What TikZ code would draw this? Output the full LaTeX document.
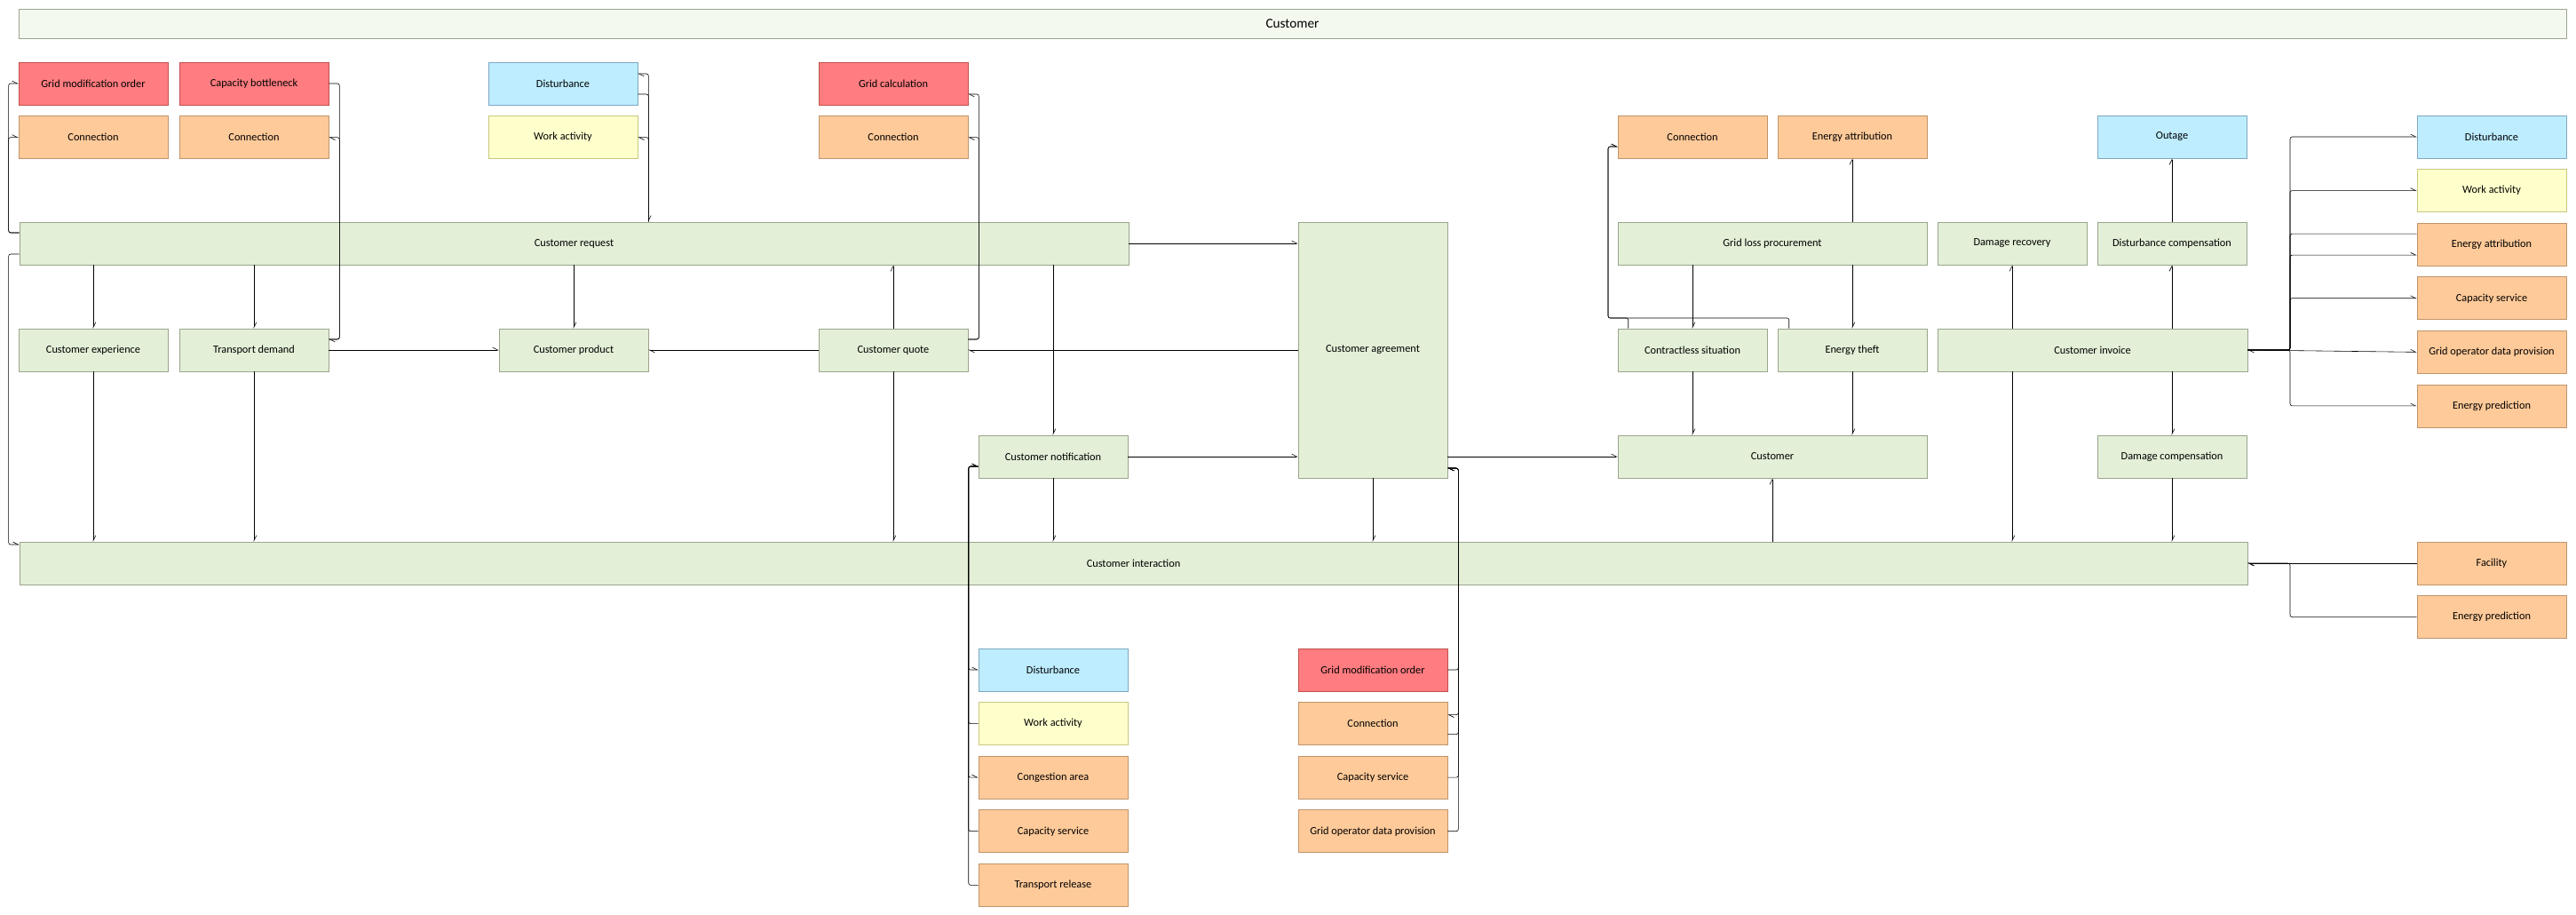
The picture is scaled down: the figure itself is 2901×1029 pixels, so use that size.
\documentclass[tikz,border=0pt]{standalone}
\usepackage{fontspec}
\setmainfont{Carlito}
\usetikzlibrary{positioning,arrows.meta,calc}

\definecolor{actfill}{HTML}{E3EFD7}
\definecolor{actdraw}{HTML}{9BA58C}
\definecolor{redfill}{HTML}{FF7C80}
\definecolor{reddraw}{HTML}{C0504D}
\definecolor{orgfill}{HTML}{FFCA99}
\definecolor{orgdraw}{HTML}{C0946A}
\definecolor{blufill}{HTML}{BDEDFF}
\definecolor{bludraw}{HTML}{7FA8C0}
\definecolor{yelfill}{HTML}{FFFFCC}
\definecolor{yeldraw}{HTML}{C8C87F}

\begin{document}
\begin{tikzpicture}[%
  x=0.03cm, y=-0.03cm,
  >={Straight Barb[left,length=5pt,width=5pt]},
  node distance=0.36cm,
  font=\fontsize{10.5}{12}\selectfont,
  box/.style={
    draw,
    line width=0.5pt,
    minimum width=5.04cm,
    minimum height=1.44cm,
    inner sep=0pt,
    align=center,},
  act/.style={box, fill=actfill, draw=actdraw},
  red/.style={box, fill=redfill, draw=reddraw},
  org/.style={box, fill=orgfill, draw=orgdraw},
  blu/.style={box, fill=blufill, draw=bludraw},
  yel/.style={box, fill=yelfill, draw=yeldraw},
  pil/.style={
    ->,
    line width=0.5pt,
    rounded corners=2pt,}
  ]
  \useasboundingbox (0,0) rectangle (2901,1029);
  %% Nodes
  \node[act, fill=actfill!40, minimum width=86.07cm, minimum height=0.99cm,
    font=\fontsize{13}{15}\selectfont] (title) at (1455.5,27) {Customer};
  % top left
  \node[red] (gmoA) at (105,94) {Grid modification order};
  \node[red] (cb) at (286,94) {Capacity bottleneck};
  \node[org, below=of gmoA] (connA) {Connection};
  \node[org, below=of cb] (connB) {Connection};
  \node[blu] (distA) at (634,94) {Disturbance};
  \node[yel, below=of distA] (waA) {Work activity};
  \node[red] (gc) at (1006,94) {Grid calculation};
  \node[org, below=of gc] (connC) {Connection};
  \node[org] (connD) at (1906,154) {Connection};
  \node[org] (eaA) at (2086,154) {Energy attribution};
  \node[blu] (outage) at (2446,154) {Outage};
  % main rows
  \node[act, minimum width=37.47cm] (creq) at (646.5,274) {Customer request};
  \node[act, minimum height=8.64cm] (agr) at (1546,394) {Customer agreement};
  \node[act, minimum width=10.44cm] (glp) at (1996,274) {Grid loss procurement};
  \node[act] (dr) at (2266,274) {Damage recovery};
  \node[act] (dc) at (2446,274) {Disturbance compensation};
  \node[act] (cexp) at (105,394) {Customer experience};
  \node[act] (td) at (286,394) {Transport demand};
  \node[act] (cprod) at (646,394) {Customer product};
  \node[act] (cquote) at (1006,394) {Customer quote};
  \node[act] (cls) at (1906,394) {Contractless situation};
  \node[act] (et) at (2086,394) {Energy theft};
  \node[act, minimum width=10.47cm] (inv) at (2356.5,394) {Customer invoice};
  \node[act] (notif) at (1186,514) {Customer notification};
  \node[act, minimum width=10.44cm] (cust) at (1996,514) {Customer};
  \node[act] (dcomp) at (2446,514) {Damage compensation};
  \node[act, minimum width=75.27cm] (ci) at (1276.5,634) {Customer interaction};
  % right column
  \node[blu] (distR) at (2806,154) {Disturbance};
  \node[yel, below=of distR] (waR) {Work activity};
  \node[org, below=of waR] (eaR) {Energy attribution};
  \node[org, below=of eaR] (csR) {Capacity service};
  \node[org, below=of csR] (godpR) {Grid operator data provision};
  \node[org, below=of godpR] (epR) {Energy prediction};
  \node[org] (fac) at (2806,634) {Facility};
  \node[org, below=of fac] (epR2) {Energy prediction};
  % bottom
  \node[blu] (distL) at (1186,754) {Disturbance};
  \node[yel, below=of distL] (waL) {Work activity};
  \node[org, below=of waL] (congL) {Congestion area};
  \node[org, below=of congL] (csL) {Capacity service};
  \node[org, below=of csL] (trL) {Transport release};
  \node[red] (gmoL) at (1546,754) {Grid modification order};
  \node[org, below=of gmoL] (connL) {Connection};
  \node[org, below=of connL] (csL2) {Capacity service};
  \node[org, below=of csL2] (godpL) {Grid operator data provision};
  \coordinate (busR) at (2579,394);
  \coordinate (busC) at (2579,634);
  \coordinate (busE) at (1811,358);
  %% Edges
  \draw[pil] ([yshift=.36cm]creq.west) -- ++(-.36cm,0) |- (gmoA.west);
  \draw[pil] ([yshift=.36cm]creq.west) -- ++(-.36cm,0) |- (connA.west);
  \draw[pil] ([yshift=-.36cm]creq.west) -- ++(-.36cm,0) |- ([yshift=.63cm]ci.west);
  \draw[pil] (cb.east) -- ++(.36cm,0) |- ([yshift=.36cm]td.east);
  \draw[pil] ([yshift=.36cm]td.east) -- ++(.36cm,0) |- (connB.east);
  \draw[pil] ([yshift=-.36cm]distA.east) -- ++(.36cm,0) -- ($(creq.north -| distA.east)+(.36cm,0)$);
  \draw[pil] ($(creq.north -| distA.east)+(.36cm,0)$) |- ([yshift=.33cm]distA.east);
  \draw[pil] ($(creq.north -| distA.east)+(.36cm,0)$) |- (waA.east);
  \draw[pil] ([yshift=.36cm]cquote.east) -- ++(.36cm,0) |- ([yshift=-.36cm]gc.east);
  \draw[pil] ([yshift=.36cm]cquote.east) -- ++(.36cm,0) |- (connC.east);
  \draw[pil] (creq.south -| cexp.north) -- (cexp.north);
  \draw[pil] (creq.south -| td.north) -- (td.north);
  \draw[pil] (creq.south -| cprod.north) -- (cprod.north);
  \draw[pil] (cquote.north) -- (creq.south -| cquote.north);
  \draw[pil] (creq.south -| notif.north) -- (notif.north);
  \draw[pil] (td.east) -- (cprod.west);
  \draw[pil] (cquote.west) -- (cprod.east);
  \draw[pil] (agr.west) -- (cquote.east);
  \draw[pil] (cexp.south) -- (ci.north -| cexp.south);
  \draw[pil] (td.south) -- (ci.north -| td.south);
  \draw[pil] (cquote.south) -- (ci.north -| cquote.south);
  \draw[pil] (notif.south) -- (ci.north -| notif.south);
  \draw[pil] (agr.south) -- (ci.north -| agr.south);
  \draw[pil] (creq.east) -- (agr.west |- creq.east);
  \draw[pil] (notif.east) -- (agr.west |- notif.east);
  \draw[pil] (agr.east |- cust.west) -- (cust.west);
  % notification sources
  \draw[pil] (waL.west) -- ++(-.33cm,0) |- ([yshift=-.33cm]notif.west);
  \draw[pil] (csL.west) -- ++(-.33cm,0) |- ([yshift=-.33cm]notif.west);
  \draw[pil] (trL.west) -- ++(-.33cm,0) |- ([yshift=-.33cm]notif.west);
  \draw[pil] ([yshift=-.33cm]notif.west) -- ++(-.33cm,0) |- (distL.west);
  \draw[pil] ([yshift=-.33cm]notif.west) -- ++(-.33cm,0) |- (congL.west);
  % agreement sources
  \draw[pil] (gmoL.east) -- ++(.36cm,0) |- ([yshift=-3.99cm]agr.east);
  \draw[pil] ([yshift=-.36cm]connL.east) -- ++(.36cm,0) |- ([yshift=-3.99cm]agr.east);
  \draw[pil] (csL2.east) -- ++(.36cm,0) |- ([yshift=-3.99cm]agr.east);
  \draw[pil] (godpL.east) -- ++(.36cm,0) |- ([yshift=-3.99cm]agr.east);
  \draw[pil] ([yshift=-3.99cm]agr.east) -- ++(.36cm,0) |- ([yshift=.3cm]connL.east);
  % grid loss
  \draw[pil] (glp.south -| cls.north) -- (cls.north);
  \draw[pil] (glp.south -| et.north) -- (et.north);
  \draw[pil] (glp.north -| eaA.south) -- (eaA.south);
  \draw[pil] (cls.south) -- (cust.north -| cls.south);
  \draw[pil] (et.south) -- (cust.north -| et.south);
  \draw[pil] (cust.south |- ci.north) -- (cust.south);
  \draw[pil] ([xshift=.39cm]et.north west) |- (busE) |- ([yshift=-.33cm]connD.west);
  \draw[pil] ([xshift=.36cm]cls.north west) |- (busE) |- ([yshift=-.33cm]connD.west);
  % invoice
  \draw[pil] (inv.north -| dr.south) -- (dr.south);
  \draw[pil] (inv.north -| dc.south) -- (dc.south);
  \draw[pil] (dc.north) -- (outage.south);
  \draw[pil] (inv.south -| dcomp.north) -- (dcomp.north);
  \draw[pil] (inv.south -| dr.south) -- (ci.north -| dr.south);
  \draw[pil] (dcomp.south) -- (ci.north -| dcomp.south);
  \draw[pil] (inv.east) -- (busR) |- (distR.west);
  \draw[pil] (inv.east) -- (busR) |- (waR.west);
  \draw[pil] (inv.east) -- (busR) |- ([yshift=-.36cm]eaR.west);
  \draw[pil] (inv.east) -- (busR) |- (csR.west);
  \draw[pil] (inv.east) -- (godpR.west);
  \draw[pil] (inv.east) -- (busR) |- (epR.west);
  \draw[pil] ([yshift=.36cm]eaR.west) -| (busR) -- (inv.east);
  \draw[pil] (fac.west) -- (ci.east);
  \draw[pil] (epR2.west) -| (busC) -- (ci.east);
\end{tikzpicture}
\end{document}
